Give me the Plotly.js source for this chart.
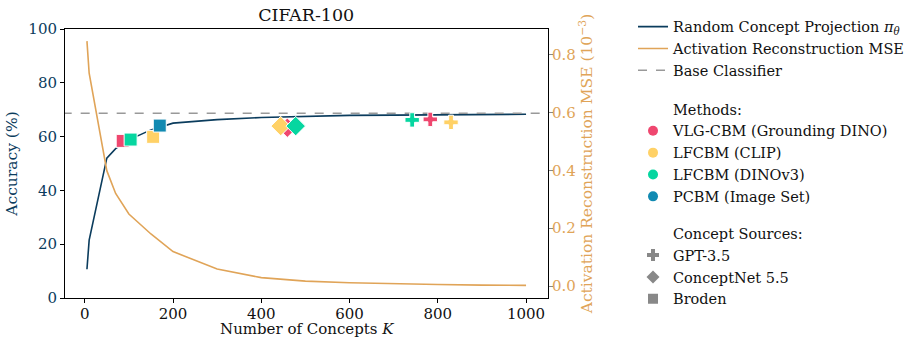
<!DOCTYPE html>
<html><head><meta charset="utf-8">
<script src="https://cdn.plot.ly/plotly-3.0.1.min.js"></script>
<style>body{margin:0;background:#fff}#c{width:910px;height:337px}</style>
</head><body><div id="c"></div>
<script>
// Random concept projection accuracy (%) vs number of concepts K
const kValues = [5, 10, 50, 70, 100, 150, 200, 300, 400, 500, 600, 700, 800, 900, 1000];
const accRandom = [10.7, 21.5, 52.0, 55.5, 58.8, 62.5, 65.0, 66.3, 67.1, 67.6, 67.9, 68.0, 68.1, 68.2, 68.3];
// Activation reconstruction MSE (1e-3)
const mseValues = [0.847, 0.736, 0.399, 0.32, 0.249, 0.18, 0.119, 0.059, 0.029, 0.017, 0.011, 0.007, 0.005, 0.003, 0.002];
const baseAcc = 68.7;

const methods = ["VLG-CBM (Grounding DINO)", "LFCBM (CLIP)", "LFCBM (DINOv3)", "PCBM (Image Set)"];
const methodColors = ["#EF476F", "#FFD166", "#06D6A0", "#118AB2"];
// per method: [K, acc] for sources GPT-3.5, ConceptNet 5.5, Broden (null = absent)
const gptK = [783, 830, 742, null];
const gptAcc = [66.4, 65.3, 66.2, null];
const cnK = [459, 444, 478, null];
const cnAcc = [63.3, 63.9, 63.9, null];
const brK = [86, 155, 104, 170];
const brAcc = [58.4, 59.9, 58.9, 64.1];

const sources = ["GPT-3.5", "ConceptNet 5.5", "Broden"];
const sourceSymbols = ["cross", "diamond", "square"];
const sourceSizes = [12, 15, 13];

const serif = "'DejaVu Serif', serif";
const blue = "#0B3C5D";
const orange = "#E0A458";

const traces = [];
traces.push({x: kValues, y: accRandom, mode: "lines", line: {color: blue, width: 1.6},
  name: "Random Concept Projection <i>π<sub>θ</sub></i>", legend: "legend", hoverinfo: "skip"});
traces.push({x: kValues, y: mseValues, yaxis: "y2", mode: "lines", line: {color: orange, width: 1.6},
  name: "Activation Reconstruction MSE", legend: "legend", hoverinfo: "skip"});
traces.push({x: [-50, 1060], y: [baseAcc, baseAcc], mode: "lines", line: {color: "#999999", width: 1.5, dash: "dash"},
  name: "Base Classifier", legend: "legend", hoverinfo: "skip"});

const srcK = [gptK, cnK, brK];
const srcAcc = [gptAcc, cnAcc, brAcc];
for (let s = 0; s < 3; s++) {
  for (let m = 0; m < methods.length; m++) {
    if (srcK[s][m] === null) continue;
    traces.push({x: [srcK[s][m]], y: [srcAcc[s][m]], mode: "markers", showlegend: false,
      marker: {symbol: sourceSymbols[s], size: sourceSizes[s], color: methodColors[m], line: {color: "#fff", width: 1}}});
  }
}
// Legend: methods
traces.push({x: [null], y: [null], mode: "markers", name: "Methods:", legend: "legend2",
  marker: {color: "rgba(0,0,0,0)", size: 1}});
for (let m = 0; m < methods.length; m++) {
  traces.push({x: [null], y: [null], mode: "markers", name: methods[m], legend: "legend2",
    marker: {symbol: "circle", size: 10, color: methodColors[m]}});
}
// Legend: sources
traces.push({x: [null], y: [null], mode: "markers", name: "Concept Sources:", legend: "legend3",
  marker: {color: "rgba(0,0,0,0)", size: 1}});
for (let s = 0; s < 3; s++) {
  traces.push({x: [null], y: [null], mode: "markers", name: sources[s], legend: "legend3",
    marker: {symbol: sourceSymbols[s], size: 10, color: "#888888"}});
}

const legFont = {family: serif, size: 14.5, color: "#111"};
const layout = {
  width: 910, height: 337,
  margin: {l: 65, r: 362, t: 29, b: 39, autoexpand: false},
  paper_bgcolor: "#fff", plot_bgcolor: "#fff",
  font: {family: serif, size: 15, color: "#111"},
  title: {text: "CIFAR-100", font: {family: serif, size: 17.5, color: "#111"}, x: 0.3365, xanchor: "center", y: 0.955, yanchor: "middle"},
  xaxis: {range: [-44.75, 1049.75], tickvals: [0, 200, 400, 600, 800, 1000], showgrid: false, zeroline: false,
    showline: true, linecolor: "#000", linewidth: 1, mirror: true, ticks: "outside", ticklen: 4, tickcolor: "#000",
    ticklabelstandoff: -2,
    tickfont: {family: serif, size: 15, color: "#111"}},
  yaxis: {range: [0, 100], tickvals: [0, 20, 40, 60, 80, 100], showgrid: false, zeroline: false,
    showline: true, linecolor: "#000", linewidth: 1, ticks: "outside", ticklen: 4, tickcolor: "#000",
    tickfont: {family: serif, size: 15, color: blue},
    title: {text: "Accuracy (%)", font: {family: serif, size: 15.5, color: blue}, standoff: 6}},
  yaxis2: {overlaying: "y", side: "right", range: [-0.0415, 0.889], tickvals: [0, 0.2, 0.4, 0.6, 0.8],
    ticktext: ["0.0", "0.2", "0.4", "0.6", "0.8"], showgrid: false, zeroline: false,
    showline: true, linecolor: "#000", linewidth: 1, ticks: "outside", ticklen: 4, tickcolor: "#888",
    ticklabelstandoff: -4,
    tickfont: {family: serif, size: 15, color: orange},
    title: {text: "Activation Reconstruction MSE (10<sup>−3</sup>)", font: {family: serif, size: 15.5, color: orange}, standoff: 4}},
  annotations: [{text: "Number of Concepts <i>K</i>", xref: "paper", yref: "paper", x: 0.5, y: -0.115,
    xanchor: "center", yanchor: "middle", showarrow: false, font: {family: serif, size: 15, color: "#111"}}],
  showlegend: true,
  legend: {x: 1.176, xanchor: "left", y: 1.068, yanchor: "top", font: legFont, bgcolor: "rgba(0,0,0,0)", tracegroupgap: 0},
  legend2: {x: 1.176, xanchor: "left", y: 0.762, yanchor: "top", font: legFont, bgcolor: "rgba(0,0,0,0)"},
  legend3: {x: 1.176, xanchor: "left", y: 0.300, yanchor: "top", font: legFont, bgcolor: "rgba(0,0,0,0)"}
};
Plotly.newPlot("c", traces, layout, {displayModeBar: false, staticPlot: true});
</script></body></html>
